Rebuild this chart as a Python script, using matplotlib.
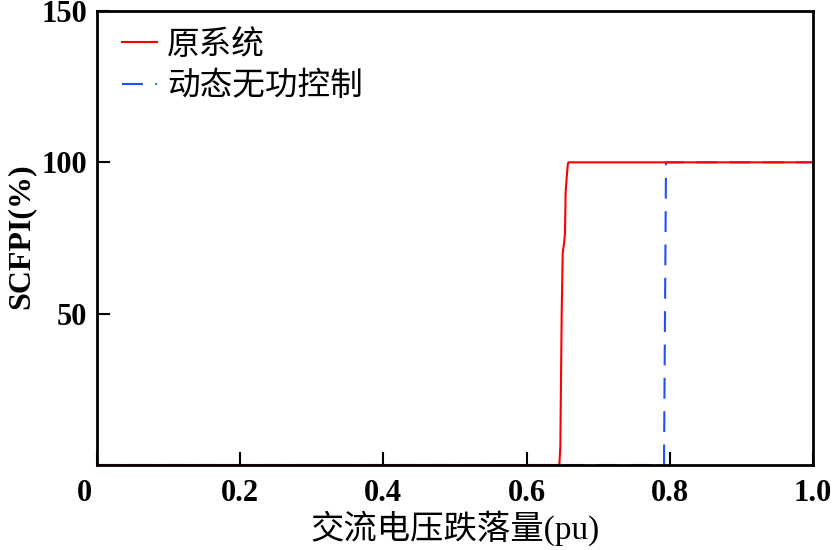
import matplotlib
matplotlib.use("Agg")
import matplotlib.pyplot as plt
import matplotlib.transforms as mtransforms

# ---- data ----
x_orig = [0.0, 0.6457, 0.6471, 0.6490, 0.6504, 0.6522, 0.6536, 0.6545, 0.6560, 0.6574, 0.6583, 1.0]
y_orig = [0.0, 0.0, 6.0, 50.0, 70.0, 73.0, 76.5, 90.0, 95.0, 99.0, 100.0, 100.0]
x_dyn = [0.0, 0.7919, 0.7947, 1.0]
y_dyn = [0.0, 0.0, 100.0, 100.0]
series_names = ["原系统", "动态无功控制"]
xticks = [0.0, 0.2, 0.4, 0.6, 0.8, 1.0]
xticklabels = ["0", "0.2", "0.4", "0.6", "0.8", "1.0"]
yticks = [50, 100, 150]
yticklabels = ["50", "100", "150"]
xlabel = "交流电压跌落量(pu)"
ylabel = "SCFPI(%)"

plt.rcParams['font.family'] = ['Liberation Serif', 'Noto Sans CJK SC', 'DejaVu Sans']

fig = plt.figure(figsize=(8.35, 5.5), dpi=100)
ax = fig.add_axes([97/835, 1-465/550, (813-97)/835, (465-11)/550])

l1, = ax.plot(x_orig, y_orig, color='#ff0000', lw=1.5, zorder=2.2, label=series_names[0])
l2, = ax.plot(x_dyn, y_dyn, color='#1f4fff', lw=1.5, dashes=(10, 6), zorder=2.1, label=series_names[1])

ax.set_xlim(0, 1.0)
ax.set_ylim(0, 150)
ax.set_xticks(xticks)
ax.set_xticklabels(xticklabels, fontsize=22, fontweight='bold')
ax.set_yticks(yticks)
ax.set_yticklabels(yticklabels, fontsize=22, fontweight='bold')
ax.tick_params(direction='in', length=9.5, width=1.5, pad=7)
ax.tick_params(axis='x', pad=10)
for s in ax.spines.values():
    s.set_linewidth(2.0)
    s.set_zorder(3)

# shift the "0" x tick label slightly left (shared corner label)
offset = mtransforms.ScaledTranslation(-13/100, 0, fig.dpi_scale_trans)
lab0 = ax.get_xticklabels()[0]
lab0.set_transform(lab0.get_transform() + offset)

ax.set_xlabel(xlabel, fontsize=24, fontweight='normal', labelpad=2)
ax.set_ylabel(ylabel, fontsize=23, fontweight='bold', labelpad=6)
ax.yaxis.set_label_coords(-0.086, 0.505)

leg = ax.legend(handles=[l1, l2], loc='upper left', frameon=False,
                prop={'family': ['Noto Sans CJK SC'], 'size': 23.5},
                handlelength=1.1, handletextpad=0.3, labelspacing=0.3,
                borderaxespad=0.0, bbox_to_anchor=(0.016, 0.99))

fig.savefig("out.png", dpi=100)
